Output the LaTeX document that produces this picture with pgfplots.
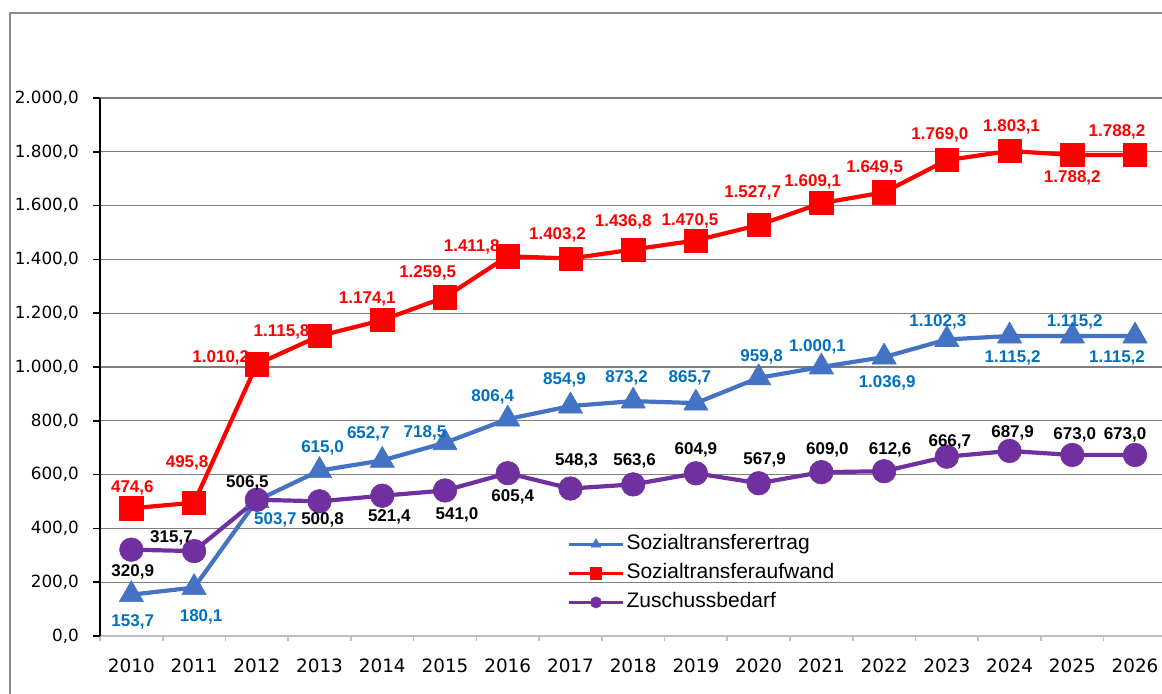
\documentclass[border=0pt]{standalone}
\usepackage{pgfplots}
\pgfplotsset{compat=1.18}
\usepackage{pgfplotstable}
\usepackage{fontspec}
\setmainfont{Liberation Sans}
\newfontfamily\dejavu{DejaVu Sans}
\definecolor{cblue}{HTML}{4472C4}
\definecolor{clab}{HTML}{0070C0}
\definecolor{cred}{HTML}{FF0000}
\definecolor{cpur}{HTML}{7030A0}
\definecolor{cgrid}{HTML}{7F7F7F}
\definecolor{cframe}{HTML}{8C8C8C}
\definecolor{caxis}{HTML}{BFBFBF}

\pgfplotstableread{
x y dx dy
0 153.7 0.7 -13.5
1 180.1 3.5 -14.5
2 503.7 9.3 -9.7
3 615.0 1.5 11.3
4 652.7 -7 13.5
5 718.5 -10 5
6 806.4 -7.5 11
7 854.9 -3 13
8 873.2 -3.3 11.5
9 865.7 -3 12.5
10 959.8 1.5 10.5
11 1000.1 -2 10
12 1036.9 1.5 -13
13 1102.3 -4.5 9
14 1115.2 1.5 -11
15 1115.2 1.2 7
16 1115.2 -9 -11
}\ertrag

\pgfplotstableread{
x y dx dy
0 474.6 0.5 10
1 495.8 -3.5 20
2 1010.2 -18 3
3 1115.8 -19 2
4 1174.1 -7.5 10.5
5 1259.5 -8.7 12
6 1411.8 -18 4.5
7 1403.2 -6.5 11.7
8 1436.8 -5 13.7
9 1470.5 -3 10
10 1527.7 -3 16
11 1609.1 -4.3 10.6
12 1649.5 -4.7 12
13 1769.0 -3.5 12.5
14 1803.1 1 12
15 1788.2 0 -11.5
16 1788.2 -9 11.5
}\aufwand

\pgfplotstableread{
x y dx dy
0 320.9 0.7 -11
1 315.7 -11.3 6.5
2 506.5 -4.7 8.4
3 500.8 1.5 -9.5
4 521.4 3.5 -10.5
5 541.0 6 -12
6 605.4 2.5 -12
7 548.3 3 14
8 563.6 0.7 12
9 604.9 0 11.7
10 567.9 3 11.5
11 609.0 3 11
12 612.6 3 10.5
13 666.7 1.5 7.5
14 687.9 1.5 9
15 673.0 1.2 10
16 673.0 -5 10
}\zuschuss

\pgfkeys{/pgf/number format/.cd, assume math mode=true, use comma, 1000 sep={.}, fixed, fixed zerofill, precision=1}

\pgfplotsset{
  lbl/.style={
    draw=none, mark=none, forget plot,
    nodes near coords={\pgfmathprintnumber{\pgfplotspointmeta}},
    point meta=explicit,
    visualization depends on={\thisrow{dx}\as\dx},
    visualization depends on={\thisrow{dy}\as\dy},
    every node near coord/.append style={anchor=center, inner sep=0pt, xshift=\dx pt, yshift=\dy pt,
      font=\bfseries\fontsize{8.5}{10}\selectfont, text=#1},
  },
}

\begin{document}
\begin{tikzpicture}
\useasboundingbox (0,0) rectangle (581pt,346.5pt);
\draw[cframe, line width=1pt] (5pt,-5pt) -- (5pt,340pt) -- (600pt,340pt);
\begin{axis}[
  at={(50pt,28.5pt)}, anchor=south west, scale only axis,
  width=531pt, height=269pt,
  xmin=-0.5, xmax=16.43, ymin=0, ymax=2000,
  axis x line*=bottom, axis y line*=left,
  clip=false,
  xtick={0,...,16},
  xticklabels={2010,2011,2012,2013,2014,2015,2016,2017,2018,2019,2020,2021,2022,2023,2024,2025,2026},
  minor xtick={-0.5,0.5,...,16.5},
  major x tick style={draw=none},
  minor x tick style={caxis, line width=0.8pt},
  tick align=outside,
  minor tick length=2.5pt,
  major tick length=3.5pt,
  ytick={0,200,...,2000},
  major y tick style={black, line width=0.8pt},
  ymajorgrids, grid style={cgrid, line width=0.6pt},
  y axis line style={black, line width=0.8pt},
  x axis line style={caxis, line width=1pt},
  yticklabel style={font=\dejavu\fontsize{8.4}{10}\selectfont, xshift=-3.5pt},
  xticklabel style={font=\dejavu\fontsize{9.2}{11}\selectfont, yshift=-4.6pt},
  legend style={at={(rel axis cs:0.4397,0.193)}, anchor=north west, draw=none, fill=none,
    font=\fontsize{10.5}{12}\selectfont, row sep=2.7pt, inner sep=0pt,
    nodes={inner sep=1pt, text height=7.6pt, text depth=2.2pt}},
  legend cell align=left,
  legend image code/.code={\draw[#1, line width=1.6pt, mark size=2.8pt, mark repeat=2, mark phase=2]
     plot coordinates {(0pt,0pt) (13.5pt,0pt) (27pt,0pt)};},
]
\addplot[cblue, line width=2.1pt, line join=round, mark=triangle*, mark size=7pt,
  mark options={line width=0.3pt}] table[x=x, y=y] {\ertrag};
\addlegendentry{Sozialtransferertrag}
\addplot[cred, line width=2.1pt, line join=round, mark=square*, mark size=5.8pt,
  mark options={line width=0.3pt}] table[x=x, y=y] {\aufwand};
\addlegendentry{Sozialtransferaufwand}
\addplot[cpur, line width=2.1pt, line join=round, mark=*, mark size=5.9pt,
  mark options={line width=0.3pt}] table[x=x, y=y] {\zuschuss};
\addlegendentry{Zuschussbedarf}
\addplot[lbl=clab] table[x=x, y=y, meta=y] {\ertrag};
\addplot[lbl=cred] table[x=x, y=y, meta=y] {\aufwand};
\addplot[lbl=black] table[x=x, y=y, meta=y] {\zuschuss};
\end{axis}
\end{tikzpicture}
\end{document}
